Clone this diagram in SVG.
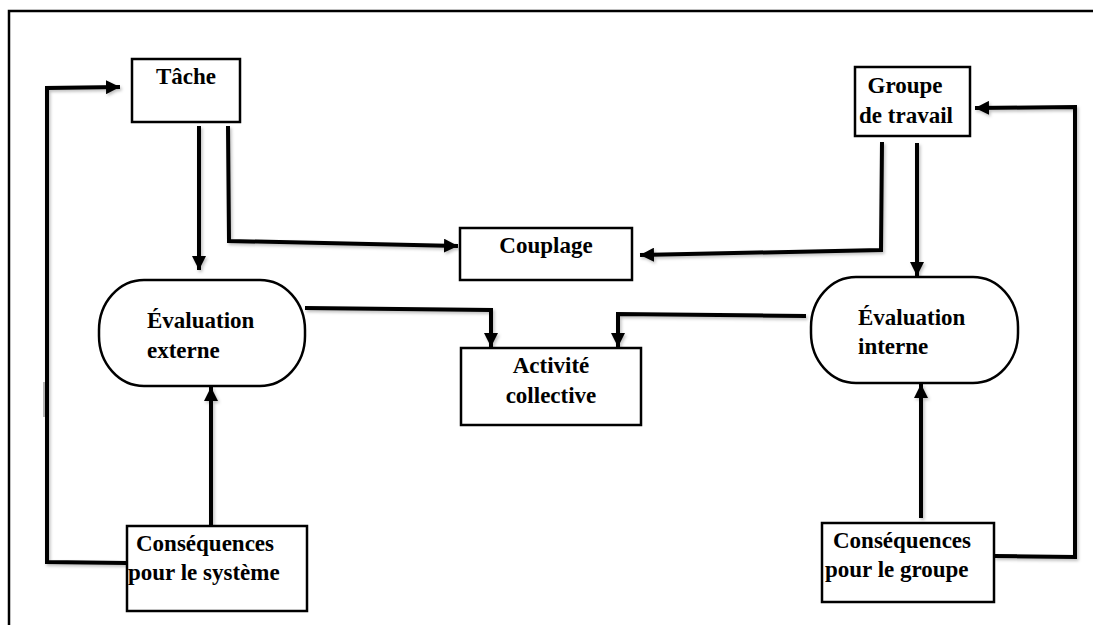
<svg xmlns="http://www.w3.org/2000/svg" width="1093" height="625" viewBox="0 0 1093 625">
<style>
.box{fill:#fff;stroke:#000;stroke-width:2.5}
.t{font-family:'Liberation Serif','DejaVu Serif',serif;font-weight:700;font-size:23px;fill:#000}
.c{fill:none;stroke:#000;stroke-width:4;stroke-linejoin:miter}
.frame{fill:none;stroke:#000;stroke-width:2.5}
</style>
<defs>
<marker id="ah" markerUnits="userSpaceOnUse" markerWidth="14" markerHeight="14" viewBox="0 0 14 14" refX="14" refY="7" orient="auto">
<path d="M0,0 L14,7 L0,14 Z" fill="#000"/>
</marker>
<filter id="sh" x="-5%" y="-5%" width="110%" height="110%">
<feDropShadow dx="1.5" dy="2" stdDeviation="1.5" flood-color="#000" flood-opacity="0.25"/>
</filter>
</defs>
<rect width="1093" height="625" fill="#fff"/>
<path class="frame" d="M9,625 L9,11 L1093,11"/>
<line x1="44" y1="382" x2="44" y2="417" stroke="#888" stroke-width="1.2"/>

<g id="connectors" filter="url(#sh)">
<path class="c" d="M127,563 L47,562 L47,88 L120,87" marker-end="url(#ah)"/>
<path class="c" d="M199,126 L199,270" marker-end="url(#ah)"/>
<path class="c" d="M228,126 L229,241 L458,246" marker-end="url(#ah)"/>
<path class="c" d="M882,142 L881,250 L640,255" marker-end="url(#ah)"/>
<path class="c" d="M917,143 L917,276" marker-end="url(#ah)"/>
<path class="c" d="M994,556 L1075,557 L1075,107 L975,108" marker-end="url(#ah)"/>
<path class="c" d="M305,308 L491,310 L491,347" marker-end="url(#ah)"/>
<path class="c" d="M806,316 L618,314 L618,347" marker-end="url(#ah)"/>
<path class="c" d="M211,526 L211,387" marker-end="url(#ah)"/>
<path class="c" d="M921,518 L921,384" marker-end="url(#ah)"/>
</g>

<g id="tache">
<rect class="box" x="132" y="59" width="108" height="63"/>
<text class="t" x="186" y="84" text-anchor="middle">Tâche</text>
</g>
<g id="groupe">
<rect class="box" x="855" y="67" width="115" height="69"/>
<text class="t" x="905" y="93" text-anchor="middle">Groupe</text>
<text class="t" x="906" y="123" text-anchor="middle">de travail</text>
</g>
<g id="couplage">
<rect class="box" x="460" y="228" width="172" height="52"/>
<text class="t" x="546" y="253" text-anchor="middle">Couplage</text>
</g>
<g id="activite">
<rect class="box" x="461" y="348" width="180" height="77"/>
<text class="t" x="551" y="373" text-anchor="middle">Activité</text>
<text class="t" x="551" y="403" text-anchor="middle">collective</text>
</g>
<g id="eval-externe">
<rect class="box" x="99" y="280" width="206" height="106" rx="45" ry="50"/>
<text class="t" x="147" y="328">Évaluation</text>
<text class="t" x="147" y="358">externe</text>
</g>
<g id="eval-interne">
<rect class="box" x="811" y="277" width="207" height="106" rx="45" ry="50"/>
<text class="t" x="858" y="325">Évaluation</text>
<text class="t" x="858" y="354">interne</text>
</g>
<g id="cons-systeme">
<rect class="box" x="127" y="526" width="180" height="85"/>
<text class="t" x="136" y="551">Conséquences</text>
<text class="t" x="128" y="580">pour le système</text>
</g>
<g id="cons-groupe">
<rect class="box" x="822" y="523" width="172" height="79"/>
<text class="t" x="833" y="548">Conséquences</text>
<text class="t" x="825" y="577">pour le groupe</text>
</g>
</svg>
